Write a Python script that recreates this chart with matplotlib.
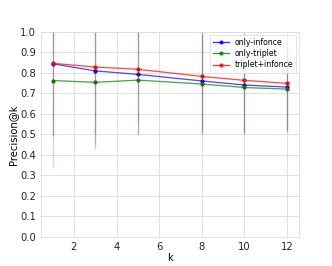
import numpy as np
import matplotlib
matplotlib.use("Agg")
import matplotlib.pyplot as plt

ks = [1, 3, 5, 8, 10, 12]

# mean precision@k
only_infonce = [0.845, 0.810, 0.793, 0.761, 0.741, 0.731]
only_triplet = [0.763, 0.754, 0.765, 0.746, 0.729, 0.721]
triplet_infonce = [0.847, 0.829, 0.818, 0.783, 0.764, 0.749]

# spread (std) drawn as error bars
err_infonce = [0.35, 0.38, 0.29, 0.26, 0.24, 0.22]
err_triplet = [0.425, 0.30, 0.27, 0.24, 0.22, 0.20]
err_both = [0.355, 0.32, 0.26, 0.26, 0.25, 0.23]

series = [
    ("only-infonce", only_infonce, err_infonce, "blue"),
    ("only-triplet", only_triplet, err_triplet, "green"),
    ("triplet+infonce", triplet_infonce, err_both, "red"),
]

fig = plt.figure(figsize=(332 / 72, 266 / 72), dpi=72)
ax = fig.add_axes([0.123, 0.109, 0.777, 0.771])

for name, vals, err, c in series:
    ax.errorbar(ks, vals, yerr=err, fmt="none", ecolor=c, alpha=0.22, elinewidth=1.3)
    ax.plot(ks, vals, color=c, alpha=0.7, lw=1.3)
    ax.plot(ks, vals, color=c, marker="o", ms=3.2, lw=0, label=name)

# legend handles with line + marker
handles = [plt.Line2D([], [], color=c, marker="o", ms=3.2, lw=1.3, alpha=0.8) for _, _, _, c in series]
ax.legend(handles, [s[0] for s in series], loc="upper right", fontsize=7.8,
          frameon=True, fancybox=False, edgecolor="#dddddd", handlelength=2.0,
          borderaxespad=0.35, labelspacing=0.3, handletextpad=0.7)

ax.set_ylim(0, 1.0)
ax.set_yticks(np.arange(0, 1.01, 0.1))
ax.set_xticks([2, 4, 6, 8, 10, 12])
ax.set_xlabel("k", fontsize=10, labelpad=1)
ax.set_ylabel("Precision@k", fontsize=10, labelpad=2)
ax.tick_params(length=0, labelsize=10, colors="#262626", pad=5)
ax.grid(True, color="#dddddd", lw=0.9)
ax.set_axisbelow(True)
for s in ax.spines.values():
    s.set_color("#dddddd")

fig.savefig("out.png", dpi=72)
